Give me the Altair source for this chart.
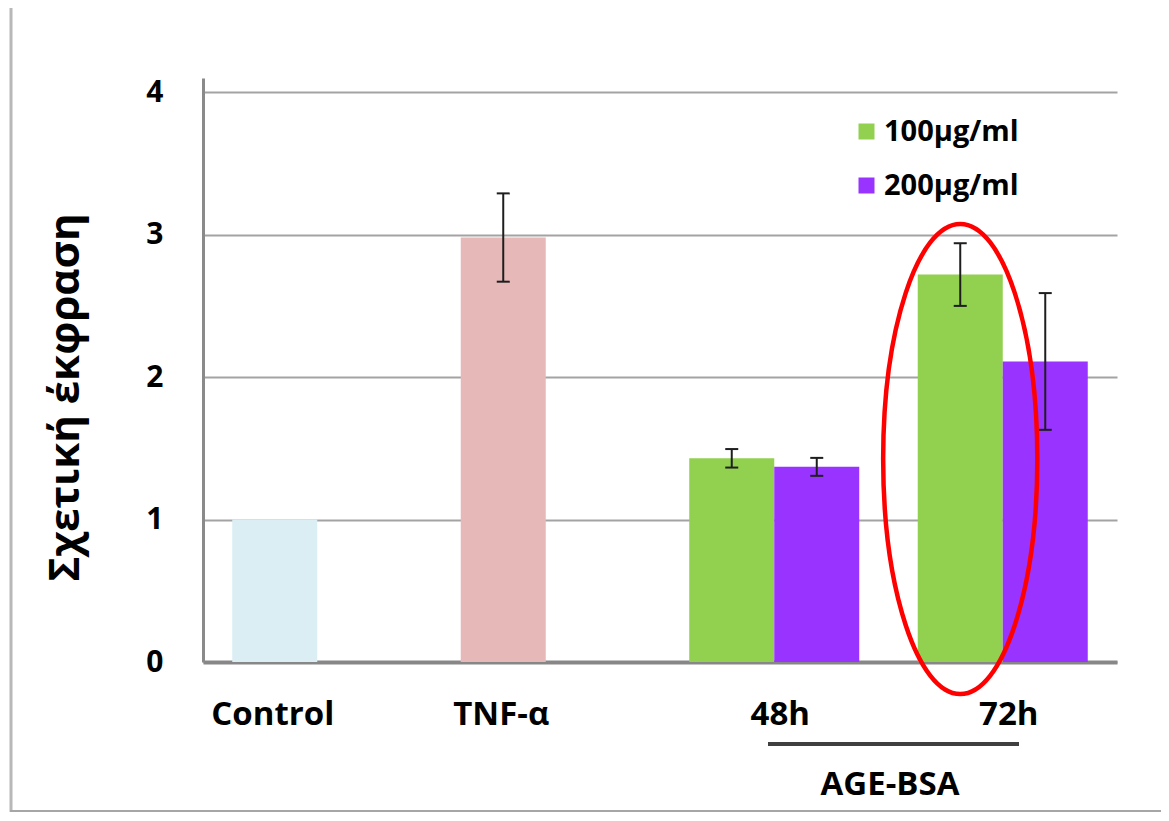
import altair as alt
import pandas as pd

FONT = "Open Sans"

groups = ["Control", "TNF-α", "48h", "72h"]
series = ["100μg/ml", "200μg/ml"]

bar_group = ["Control", "TNF-α", "48h", "48h", "72h", "72h"]
bar_slot = ["100μg/ml", "100μg/ml", "100μg/ml", "200μg/ml", "100μg/ml", "200μg/ml"]
bar_key = ["Control", "TNF-α", "100μg/ml", "200μg/ml", "100μg/ml", "200μg/ml"]
bar_value = [1.0, 2.98, 1.43, 1.37, 2.72, 2.11]
bar_err = [0.0, 0.31, 0.065, 0.063, 0.22, 0.48]

color_domain = ["100μg/ml", "200μg/ml", "Control", "TNF-α"]
color_range = ["#92D050", "#9933FF", "#DBEEF4", "#E6B9B8"]

y_ticks = [0, 1, 2, 3, 4]
y_title = "Σχετική έκφραση"
bracket_label = ["AGE-BSA"]

# highlighted bar (72h, 100μg/ml) and ellipse centre value
ell_group = ["72h"]
ell_slot = ["100μg/ml"]
ell_center = [1.425]

df = pd.DataFrame({"group": bar_group, "slot": bar_slot, "key": bar_key,
                   "value": bar_value, "err": bar_err})
df["lo"] = df["value"] - df["err"]
df["hi"] = df["value"] + df["err"]
df_err = df[df["err"] > 0]

x_enc = alt.X("group:N", scale=alt.Scale(domain=groups, paddingInner=0, paddingOuter=0),
              axis=alt.Axis(labels=False, ticks=False, title=None, grid=False,
                            domainColor="#878787", domainWidth=4))
xo_enc = alt.XOffset("slot:N", scale=alt.Scale(domain=series, paddingInner=0, paddingOuter=0.344))

bars = alt.Chart(df).mark_bar().encode(
    x=x_enc,
    xOffset=xo_enc,
    y=alt.Y("value:Q", scale=alt.Scale(domain=[0, 4.1], nice=False),
            axis=alt.Axis(values=y_ticks, format="d", title=y_title, grid=True,
                          gridColor="#A3A3A3", gridWidth=2, domainColor="#8A8A8A",
                          domainWidth=3, ticks=False, labelFont=FONT, labelFontSize=30,
                          labelFontWeight="bold", labelColor="#000000", labelPadding=40,
                          titleFont=FONT, titleFontSize=42, titleFontWeight="bold",
                          titleColor="#000000", titleX=-138, titleY=319, titleAngle=270,
                          titleAlign="center", titleBaseline="middle")),
    color=alt.Color("key:N", scale=alt.Scale(domain=color_domain, range=color_range),
                    legend=alt.Legend(values=series, title=None, orient="none",
                                      legendX=649, legendY=39, direction="vertical",
                                      symbolType="square", symbolSize=256,
                                      symbolStrokeWidth=0, symbolOpacity=1,
                                      labelFont=FONT, labelFontSize=29,
                                      labelFontWeight="bold", labelColor="#000000",
                                      labelOffset=3, rowPadding=24, padding=0)),
)

err_rule = alt.Chart(df_err).mark_rule(color="#1E1E1E", strokeWidth=2).encode(
    x="group:N", xOffset="slot:N", y="lo:Q", y2="hi:Q")
cap_hi = alt.Chart(df_err).mark_tick(orient="horizontal", size=13, thickness=2,
                                      color="#1E1E1E", opacity=1).encode(
    x="group:N", xOffset="slot:N", y="hi:Q")
cap_lo = alt.Chart(df_err).mark_tick(orient="horizontal", size=13, thickness=2,
                                      color="#1E1E1E", opacity=1).encode(
    x="group:N", xOffset="slot:N", y="lo:Q")

ELLIPSE = "M0,-1 A0.328,1 0 1,1 0,1 A0.328,1 0 1,1 0,-1 Z"
df_ell = pd.DataFrame({"group": ell_group, "slot": ell_slot, "value": ell_center})
ellipse = alt.Chart(df_ell).mark_point(shape=ELLIPSE, size=220900, filled=False,
                                        color="#FF0000", strokeWidth=4.5, opacity=1).encode(
    x="group:N", xOffset="slot:N", y="value:Q")

df_lab1 = pd.DataFrame({"group": groups[:2], "slot": [series[0], series[0]]})
df_lab2 = pd.DataFrame({"group": groups[2:]})
lab_style = dict(font=FONT, fontSize=33, fontWeight="bold", color="#000000",
                 baseline="alphabetic", align="center")
lab1 = alt.Chart(df_lab1).mark_text(dx=-2, **lab_style).encode(
    x="group:N", xOffset="slot:N", y=alt.value(647), text="group:N")
lab2 = alt.Chart(df_lab2).mark_text(dx=6, **lab_style).encode(
    x="group:N", y=alt.value(647), text="group:N")

df_br = pd.DataFrame({"label": bracket_label})
bracket = alt.Chart(df_br).mark_rule(color="#404040", strokeWidth=4).encode(
    x=alt.value(565), x2=alt.value(816), y=alt.value(666))
bracket_text = alt.Chart(df_br).mark_text(**lab_style).encode(
    x=alt.value(687), y=alt.value(717), text="label:N")

# picture frame (left, top, bottom edges)
frame_left = alt.Chart(df_br).mark_rule(color="#B8B8B8", strokeWidth=3).encode(
    x=alt.value(-192), y=alt.value(-73), y2=alt.value(734))
frame_top = alt.Chart(df_br).mark_rule(color="#E4E4E4", strokeWidth=2).encode(
    x=alt.value(-192), x2=alt.value(970), y=alt.value(-73))
frame_bottom = alt.Chart(df_br).mark_rule(color="#A6A6A6", strokeWidth=4).encode(
    x=alt.value(-193), x2=alt.value(970), y=alt.value(734))

chart = alt.layer(frame_left, frame_top, frame_bottom, bars, err_rule, cap_hi, cap_lo,
                  ellipse, lab1, lab2, bracket, bracket_text).properties(
    width=914, height=584,
    padding={"left": 195, "top": 70, "right": 44, "bottom": 150},
    autosize=alt.AutoSizeParams(type="none"),
    background="#FFFFFF",
).configure_view(stroke=None)

chart.save("out.html", embed_options={"renderer": "svg", "actions": False})
